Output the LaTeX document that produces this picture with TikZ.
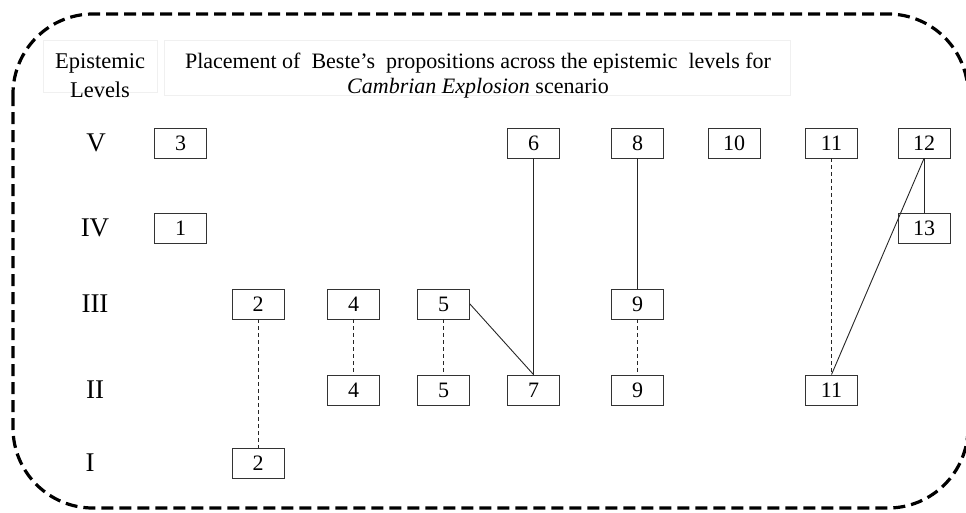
\documentclass[tikz,border=0pt]{standalone}
\usepackage{fontspec}
\setmainfont{Liberation Serif}
\begin{document}
\begin{tikzpicture}[x=1pt,y=-1pt,
  prop/.style={draw=black!80, line width=0.9pt, minimum width=52pt, minimum height=30pt,
    inner sep=0pt, font=\fontsize{22}{22}\selectfont},
  lvl/.style={font=\fontsize{27}{27}\selectfont},
  link/.style={draw=black!85, line width=0.9pt},
  same/.style={draw=black!85, line width=0.9pt, dash pattern=on 4pt off 3pt},
  frame/.style={line width=3.2pt, dash pattern=on 12pt off 6pt, rounded corners=80pt},
  faint/.style={draw=black!6, line width=0.6pt},
  hdr/.style={align=center, inner sep=0pt}]
\useasboundingbox (0,0) rectangle (966,512);
\begin{scope}
\clip (0,0) rectangle (966,512);
\draw[frame] (13,14) rectangle (968,508);
\end{scope}

% heading panels
\draw[faint] (43,40) rectangle (157,92);
\draw[faint] (164,40) rectangle (790,95);
\node[hdr, font=\fontsize{22.5}{29}\selectfont] (head) at (100,75.5) {Epistemic\\Levels};
\node[hdr, font=\fontsize{22}{25}\selectfont] (title) at (478,76) {Placement of\ \ Beste's\ \ propositions across the epistemic\ \ levels for\\\textit{Cambrian Explosion} scenario};

% level labels
\node[lvl] (lV)   at (96,143) {V};
\node[lvl] (lIV)  at (95,228) {IV};
\node[lvl] (lIII) at (95,304) {III};
\node[lvl] (lII)  at (95,390) {II};
\node[lvl] (lI)   at (90,463) {I};

% propositions
\node[prop] (p3)   at (180.5,143) {3};
\node[prop] (p1)   at (180.5,228) {1};
\node[prop] (p2a)  at (258,304) {2};
\node[prop] (p2b)  at (258,463) {2};
\node[prop] (p4a)  at (353.5,304) {4};
\node[prop] (p4b)  at (353.5,390) {4};
\node[prop] (p5a)  at (443.5,304) {5};
\node[prop] (p5b)  at (443.5,390) {5};
\node[prop] (p6)   at (533.5,143) {6};
\node[prop] (p7)   at (533.5,390) {7};
\node[prop] (p8)   at (637.5,143) {8};
\node[prop] (p9a)  at (637.5,304) {9};
\node[prop] (p9b)  at (637.5,390) {9};
\node[prop] (p10)  at (734,143) {10};
\node[prop] (p11a) at (831.5,143) {11};
\node[prop] (p11b) at (831.5,390) {11};
\node[prop] (p12)  at (924,143) {12};
\node[prop] (p13)  at (924,228) {13};

% links between propositions
\draw[same] (p2a.south) -- (p2b.north);
\draw[same] (p4a.south) -- (p4b.north);
\draw[same] (p5a.south) -- (p5b.north);
\draw[same] (p9a.south) -- (p9b.north);
\draw[same] (p11a.south) -- (p11b.north);
\draw[link] (p5a.east) -- (p7.north);
\draw[link] (p6.south) -- (p7.north);
\draw[link] (p8.south) -- (p9a.north);
\draw[link] (p12.south) -- (p13.north);
\draw[link] (p12.south) -- (p11b.north);
\end{tikzpicture}
\end{document}
